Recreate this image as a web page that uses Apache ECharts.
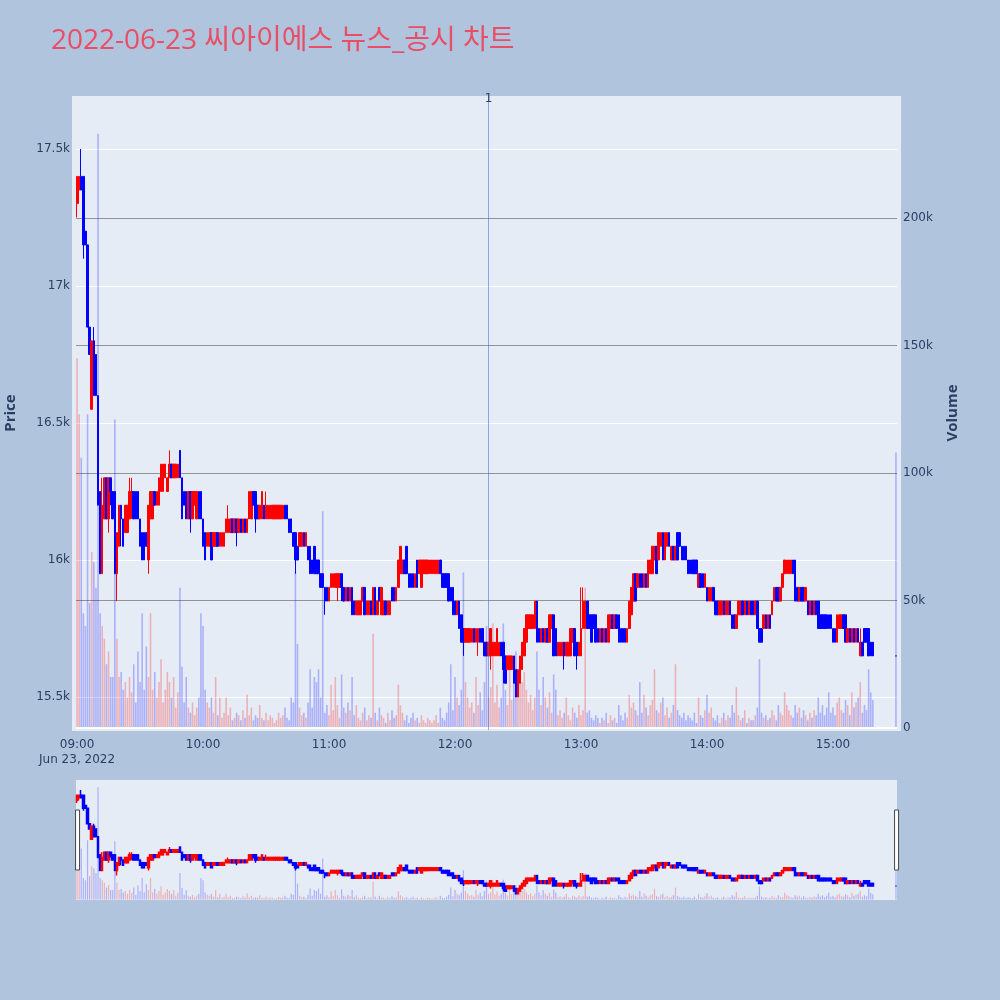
<!DOCTYPE html>
<html>
<head>
<meta charset="utf-8">
<script src="https://cdn.jsdelivr.net/npm/echarts@6/dist/echarts.min.js"></script>
<style>
html,body{margin:0;padding:0;background:#b0c4de;}
#chart{width:1000px;height:1000px;}
</style>
</head>
<body>
<div id="chart"></div>
<script>
const titleText = '2022-06-23 씨아이에스 뉴스_공시 차트';
const sessionDate = [2022, 6, 23];
const firstMinute = '09:00';
const closingAuctionTime = '15:30';
const newsTime = '12:16';
const newsLabel = '1';
const hourTicks = ['09:00','10:00','11:00','12:00','13:00','14:00','15:00'];
const priceTicks = [15500, 16000, 16500, 17000, 17500];
const volumeTicks = [0, 50000, 100000, 150000, 200000];

// one candle per minute from 09:00: [open, close, low, high]
const candles = [
[17300,17400,17250,17400],[17350,17400,17300,17400],[17400,17350,17350,17500],[17400,17150,17100,17400],[17200,17150,17150,17200],
[17150,16850,16850,17150],[16850,16750,16750,16850],[16550,16800,16550,16800],[16800,16600,16600,16850],[16750,16600,16600,16750],
[16600,16200,16200,16600],[16250,15950,15950,16250],[15950,16200,15950,16300],[16150,16300,16150,16300],[16300,16150,16150,16300],
[16150,16300,16100,16300],[16300,16250,16200,16300],[16250,16150,16150,16250],[16250,15950,15950,16250],[15950,16100,15850,16100],
[16050,16200,16050,16200],[16200,16150,16050,16200],[16150,16050,16050,16150],[16100,16200,16100,16200],[16100,16200,16100,16200],
[16150,16250,16150,16300],[16200,16250,16150,16300],[16250,16150,16150,16250],[16250,16150,16150,16250],[16250,16150,16150,16250],
[16150,16050,16050,16150],[16100,16000,16000,16100],[16100,16000,16000,16100],[16100,16050,16050,16100],[16000,16200,15950,16200],
[16150,16250,16150,16250],[16150,16250,16150,16250],[16250,16200,16200,16250],[16200,16250,16200,16250],[16200,16300,16200,16300],
[16250,16350,16250,16350],[16250,16350,16250,16350],[16300,16350,16300,16350],[16250,16300,16250,16300],[16300,16350,16300,16400],
[16350,16300,16300,16350],[16300,16350,16300,16350],[16300,16350,16300,16350],[16300,16350,16300,16350],[16400,16300,16300,16400],
[16300,16150,16150,16300],[16250,16200,16200,16250],[16250,16150,16150,16250],[16150,16250,16150,16250],[16250,16150,16100,16250],
[16150,16250,16150,16250],[16200,16250,16200,16250],[16150,16250,16150,16250],[16250,16150,16150,16250],[16250,16150,16150,16250],
[16150,16050,16050,16150],[16100,16000,16000,16100],[16050,16100,16050,16100],[16050,16100,16050,16100],[16100,16000,16000,16100],
[16050,16100,16050,16100],[16050,16100,16050,16100],[16100,16050,16050,16100],[16050,16100,16050,16100],[16050,16100,16050,16100],
[16050,16100,16050,16100],[16100,16150,16100,16150],[16100,16150,16100,16200],[16100,16150,16100,16150],[16150,16100,16100,16150],
[16100,16150,16100,16150],[16150,16100,16050,16150],[16100,16150,16100,16150],[16150,16100,16100,16150],[16100,16150,16100,16150],
[16150,16100,16100,16150],[16100,16150,16100,16150],[16150,16250,16150,16250],[16150,16250,16150,16250],[16250,16200,16200,16250],
[16250,16150,16100,16250],[16200,16150,16150,16200],[16150,16200,16150,16200],[16150,16250,16150,16250],[16200,16150,16150,16200],
[16150,16200,16150,16250],[16150,16200,16150,16200],[16150,16200,16150,16200],[16150,16200,16150,16200],[16150,16200,16150,16200],
[16150,16200,16150,16200],[16150,16200,16150,16200],[16150,16200,16150,16200],[16150,16200,16150,16200],[16200,16150,16150,16200],
[16200,16150,16150,16200],[16150,16100,16100,16150],[16150,16100,16100,16150],[16100,16050,16050,16100],[16100,16000,15950,16100],
[16050,16000,16000,16050],[16050,16100,16050,16100],[16050,16100,16050,16100],[16100,16050,16050,16100],[16050,16100,16050,16100],
[16050,16000,16000,16050],[16050,15950,15950,16050],[16000,15950,15950,16000],[16050,15950,15950,16050],[16000,15950,15950,16000],
[16000,15950,15950,16000],[15950,15900,15900,15950],[15950,15900,15900,15950],[15900,15850,15800,15900],[15900,15850,15850,15900],
[15850,15900,15850,15900],[15900,15950,15900,15950],[15900,15950,15900,15950],[15900,15950,15900,15950],[15900,15950,15850,15950],
[15900,15950,15900,15950],[15950,15900,15850,15950],[15900,15850,15850,15900],[15850,15900,15850,15900],[15900,15850,15850,15900],
[15850,15900,15850,15900],[15900,15800,15800,15900],[15850,15800,15800,15850],[15800,15850,15800,15850],[15800,15850,15800,15850],
[15800,15850,15800,15850],[15850,15900,15850,15900],[15900,15800,15800,15900],[15800,15850,15800,15850],[15800,15850,15800,15850],
[15850,15800,15800,15850],[15800,15900,15800,15900],[15900,15800,15800,15900],[15800,15850,15800,15850],[15900,15850,15850,15900],
[15800,15900,15800,15900],[15800,15850,15800,15850],[15850,15800,15800,15850],[15800,15850,15800,15850],[15800,15850,15800,15850],
[15900,15850,15850,15900],[15900,15850,15850,15900],[15850,15900,15850,15900],[15900,16000,15900,16000],[15950,16050,15950,16050],
[15950,16000,15950,16000],[16000,15950,15950,16000],[16050,15950,15950,16050],[15950,15900,15900,15950],[15950,15900,15900,15950],
[15950,15900,15900,15950],[15900,15950,15900,15950],[16000,15900,15900,16000],[15950,16000,15950,16000],[15900,16000,15900,16000],
[15950,16000,15950,16000],[15950,16000,15950,16000],[15950,16000,15950,16000],[15950,16000,15950,16000],[15950,16000,15950,16000],
[15950,16000,15950,16000],[15950,16000,15950,16000],[15950,16000,15950,16000],[16000,15950,15950,16000],[15950,15900,15900,15950],
[15950,15900,15900,15950],[15950,15900,15900,15950],[15950,15850,15850,15950],[15900,15850,15850,15900],[15900,15800,15800,15900],
[15850,15800,15800,15850],[15800,15850,15800,15850],[15850,15750,15750,15850],[15800,15700,15700,15800],[15750,15700,15650,15750],
[15700,15750,15700,15750],[15700,15750,15700,15750],[15700,15750,15700,15750],[15700,15750,15700,15750],[15750,15700,15700,15750],
[15700,15750,15700,15750],[15700,15750,15650,15750],[15750,15700,15700,15750],[15750,15700,15700,15750],[15700,15650,15650,15700],
[15700,15650,15650,15700],[15650,15700,15650,15700],[15650,15750,15600,15750],[15650,15700,15650,15700],[15650,15700,15650,15700],
[15650,15750,15650,15750],[15650,15700,15650,15700],[15700,15650,15650,15700],[15700,15600,15550,15700],[15650,15550,15550,15650],
[15600,15650,15600,15650],[15600,15650,15600,15650],[15600,15650,15600,15650],[15650,15550,15550,15650],[15600,15500,15500,15600],
[15500,15600,15500,15600],[15550,15650,15550,15650],[15600,15700,15600,15700],[15650,15750,15650,15750],[15700,15800,15700,15800],
[15750,15800,15750,15800],[15750,15800,15750,15800],[15750,15800,15750,15800],[15750,15850,15750,15850],[15850,15700,15700,15850],
[15750,15700,15700,15750],[15700,15750,15700,15750],[15750,15700,15700,15750],[15700,15750,15700,15750],[15750,15700,15700,15750],
[15700,15800,15700,15800],[15750,15800,15750,15800],[15800,15650,15650,15800],[15750,15650,15650,15750],[15650,15700,15650,15700],
[15650,15700,15650,15700],[15650,15700,15650,15700],[15700,15650,15600,15700],[15650,15700,15650,15700],[15650,15700,15650,15700],
[15650,15750,15650,15750],[15700,15750,15700,15750],[15750,15650,15650,15750],[15700,15650,15600,15700],[15650,15700,15650,15700],
[15650,15750,15650,15900],[15750,15850,15750,15900],[15750,15850,15750,15850],[15850,15750,15750,15850],[15800,15750,15750,15800],
[15800,15700,15700,15800],[15800,15750,15750,15800],[15800,15700,15700,15800],[15750,15700,15700,15750],[15700,15750,15700,15750],
[15750,15700,15700,15750],[15700,15750,15700,15750],[15750,15700,15700,15750],[15700,15800,15700,15800],[15750,15800,15750,15800],
[15800,15750,15750,15800],[15750,15800,15750,15800],[15800,15750,15750,15800],[15800,15700,15700,15800],[15750,15700,15700,15750],
[15750,15700,15700,15750],[15750,15700,15700,15750],[15700,15750,15700,15750],[15750,15850,15750,15850],[15800,15900,15800,15900],
[15850,15950,15850,15950],[15950,15850,15850,15950],[15900,15950,15900,15950],[15950,15900,15900,15950],[15950,15900,15900,15950],
[15900,15950,15900,15950],[15950,15900,15900,15950],[15900,16000,15900,16000],[15950,16000,15950,16000],[15950,16050,15950,16050],
[16000,16050,16000,16050],[16050,15950,15950,16050],[16000,16100,16000,16100],[16050,16100,16050,16100],[16100,16000,16000,16100],
[16000,16100,16000,16100],[16050,16100,16050,16100],[16100,16050,16050,16100],[16000,16050,16000,16050],[16050,16000,16000,16050],
[16000,16050,16000,16050],[16100,16000,16000,16100],[16100,16050,16050,16100],[16050,16000,16000,16050],[16050,16000,16000,16050],
[16050,16000,16000,16050],[16000,15950,15950,16000],[16000,15950,15950,16000],[16000,15950,15950,16000],[16000,15950,15950,16000],
[16000,15950,15950,16000],[15900,15950,15900,15950],[15950,15900,15900,15950],[15950,15900,15900,15950],[15900,15950,15900,15950],
[15900,15850,15850,15900],[15850,15900,15850,15900],[15850,15900,15850,15900],[15900,15850,15850,15900],[15850,15800,15800,15850],
[15850,15800,15800,15850],[15800,15850,15800,15850],[15800,15850,15800,15850],[15850,15800,15800,15850],[15800,15850,15800,15850],
[15800,15850,15800,15850],[15850,15800,15800,15850],[15800,15750,15750,15800],[15800,15750,15750,15800],[15750,15800,15750,15800],
[15800,15850,15800,15850],[15800,15850,15800,15850],[15850,15800,15800,15850],[15800,15850,15800,15850],[15850,15800,15800,15850],
[15800,15850,15800,15850],[15850,15800,15800,15850],[15850,15800,15800,15850],[15800,15850,15800,15850],[15850,15750,15750,15850],
[15750,15700,15700,15750],[15750,15700,15700,15750],[15750,15800,15750,15800],[15800,15750,15750,15800],[15750,15800,15750,15800],
[15800,15750,15750,15800],[15800,15850,15800,15850],[15850,15900,15850,15900],[15900,15850,15850,15900],[15900,15850,15850,15900],
[15850,15900,15850,15900],[15900,15950,15900,15950],[15950,16000,15950,16000],[15950,16000,15950,16000],[15950,16000,15950,16000],
[15950,16000,15950,16000],[16000,15950,15950,16000],[16000,15850,15850,16000],[15900,15850,15850,15900],[15850,15900,15850,15900],
[15900,15850,15850,15900],[15900,15850,15850,15900],[15850,15900,15850,15900],[15850,15800,15800,15850],[15800,15850,15800,15850],
[15850,15800,15800,15850],[15800,15850,15800,15850],[15850,15800,15800,15850],[15850,15750,15750,15850],[15800,15750,15750,15800],
[15800,15750,15750,15800],[15800,15750,15750,15800],[15800,15750,15750,15800],[15800,15750,15750,15800],[15800,15750,15750,15800],
[15750,15700,15700,15750],[15750,15700,15700,15750],[15700,15800,15700,15800],[15750,15800,15750,15800],[15750,15800,15750,15800],
[15800,15750,15750,15800],[15800,15700,15700,15800],[15700,15750,15700,15750],[15750,15700,15700,15750],[15700,15750,15700,15750],
[15750,15700,15700,15750],[15700,15750,15700,15750],[15750,15700,15700,15750],[15650,15700,15650,15750],[15700,15650,15650,15700],
[15750,15700,15700,15750],[15750,15700,15700,15750],[15750,15650,15650,15750],[15700,15650,15650,15700],[15700,15650,15650,15700]
];
const closingAuction = [15650,15650,15650,15650];

// traded volume per minute from 09:00
const volumes = [
145000,123000,106000,45000,40000,123000,49000,69000,65000,55000,
233000,45000,40000,35000,25000,30000,20000,20000,121000,35000,
20000,22000,15000,18000,12000,20000,14000,25000,10000,30000,
18000,45000,15000,32000,20000,45000,15000,22000,12000,18000,
27000,10000,15000,22000,18000,12000,20000,8000,14000,55000,
24000,10000,20000,8000,6000,10000,5000,8000,12000,45000,
40000,15000,10000,8000,12000,6000,20000,5000,12000,4000,
6000,12000,5000,8000,3000,4000,6000,5000,3000,7000,
4000,13000,5000,8000,3000,5000,4000,9000,4000,3000,
6000,3000,5000,4000,2000,3000,6000,4000,5000,8000,
4000,3000,12000,10000,61000,33000,8000,5000,6000,4000,
10000,23000,8000,20000,18000,23000,12000,85000,6000,9000,
5000,17000,7000,20000,9000,4000,21000,8000,6000,10000,
7000,20000,5000,9000,4000,3000,6000,8000,3000,5000,
4000,37000,6000,3000,8000,5000,4000,2000,6000,3000,
7000,4000,5000,17000,9000,6000,3000,5000,2000,4000,
6000,3000,4000,2000,5000,3000,2000,4000,3000,2000,
3000,5000,2000,8000,4000,3000,6000,10000,25000,7000,
20000,12000,9000,15000,61000,18000,12000,8000,10000,6000,
20000,9000,14000,7000,18000,40000,12000,16000,41000,10000,
17000,8000,12000,41000,15000,9000,26000,11000,20000,30000,
21000,24000,18000,22000,15000,10000,13000,7000,12000,30000,
15000,9000,20000,12000,8000,14000,6000,21000,15000,5000,
7000,4000,6000,12000,5000,3000,8000,6000,4000,9000,
5000,7000,55000,6000,7000,4000,3000,5000,4000,2000,
4000,3000,6000,2000,5000,3000,4000,2000,9000,5000,
3000,6000,4000,13000,8000,10000,7000,5000,18000,6000,
13000,8000,5000,9000,11000,23000,7000,6000,10000,12000,
5000,8000,4000,6000,9000,25000,7000,5000,4000,6000,
3000,5000,4000,3000,6000,2000,12000,5000,4000,7000,
13000,6000,8000,4000,3000,5000,2000,4000,6000,3000,
5000,4000,9000,6000,16000,5000,3000,4000,7000,2000,
4000,3000,3000,5000,8000,27000,6000,4000,5000,3000,
4000,7000,5000,3000,9000,6000,5000,14000,9000,7000,
5000,4000,9000,6000,8000,4000,7000,5000,3000,6000,
4000,7000,5000,12000,6000,9000,5000,8000,14000,6000,
8000,5000,10000,12000,7000,6000,11000,9000,5000,14000,
8000,10000,12000,18000,6000,9000,7000,23000,14000,11000
];
const closingAuctionVolume = 108000;

const priceRange = [15379.6, 17693.4];
const volumeRange = [-784, 247843];

function toMinutes(hhmm) { const p = hhmm.split(':'); return (+p[0]) * 60 + (+p[1]); }
const openMin = toMinutes(firstMinute);
const xs = candles.map((_, i) => i).concat([toMinutes(closingAuctionTime) - openMin]);
const allCandles = candles.concat([closingAuction]);
const allVolumes = volumes.concat([closingAuctionVolume]);
const candleData = allCandles.map((c, i) => [xs[i], c[0], c[1], c[2], c[3]]);
const UP = '#ff0000', DOWN = '#0000ff';
const UP_VOL = 'rgba(255,0,0,0.25)', DOWN_VOL = 'rgba(0,0,255,0.25)';
const volData = allVolumes.map((v, i) => ({
  value: [xs[i], v],
  itemStyle: { color: allCandles[i][1] > allCandles[i][0] ? UP_VOL : DOWN_VOL }
}));
const monthNames = ['Jan','Feb','Mar','Apr','May','Jun','Jul','Aug','Sep','Oct','Nov','Dec'];
const dateLine = monthNames[sessionDate[1] - 1] + ' ' + sessionDate[2] + ', ' + sessionDate[0];
const pad = n => (n < 10 ? '0' : '') + n;
function fmtTime(m) { const t = openMin + Math.round(m); return pad(Math.floor(t / 60)) + ':' + pad(t % 60); }
function fmtK(v) { return v === 0 ? '0' : (v / 1000) + 'k'; }
const xMin = -0.5, xMax = toMinutes(closingAuctionTime) - openMin + 0.5;
const hourValues = hourTicks.map(h => toMinutes(h) - openMin);

const FONT = "'Open Sans', 'Noto Sans CJK KR', sans-serif";
const TICKFONT = "'DejaVu Sans', Verdana, sans-serif";
const TXT = '#2a3f5f';
const BG = '#e5ecf6';

const chart = echarts.init(document.getElementById('chart'), null, { renderer: 'canvas' });
chart.setOption({
  animation: false,
  backgroundColor: '#b0c4de',
  title: {
    text: titleText, left: 46, top: 22,
    textStyle: { color: '#e84f67', fontSize: 28, fontWeight: 'normal', fontFamily: FONT }
  },
  graphic: [{
    type: 'rect', z: -10, silent: true,
    shape: { x: 72, y: 96, width: 829, height: 635 },
    style: { fill: BG }
  }],
  grid: [
    { left: 76, right: 103, top: 96, height: 634, show: true, backgroundColor: BG, borderWidth: 0, outerBoundsMode: 'none', containLabel: false },
    { left: 76, right: 103, top: 780, height: 120, show: true, backgroundColor: BG, borderWidth: 0, outerBoundsMode: 'none', containLabel: false }
  ],
  xAxis: [
    {
      type: 'value', gridIndex: 0, min: xMin, max: xMax,
      axisLine: { show: false }, splitLine: { show: false },
      axisTick: { show: false, customValues: hourValues },
      axisLabel: {
        customValues: hourValues, color: TXT, fontFamily: TICKFONT, fontSize: 12, margin: 7, lineHeight: 15,
        formatter: v => v === hourValues[0] ? fmtTime(v) + '\n' + dateLine : fmtTime(v)
      }
    },
    { type: 'value', gridIndex: 1, min: xMin, max: xMax, show: false, splitLine: { show: false } }
  ],
  yAxis: [
    {
      type: 'value', gridIndex: 0, position: 'left', min: priceRange[0], max: priceRange[1],
      axisLine: { show: false },
      axisTick: { show: false, customValues: priceTicks },
      axisLabel: { customValues: priceTicks, formatter: fmtK, color: TXT, fontFamily: TICKFONT, fontSize: 12, margin: 6 },
      splitLine: { show: true, lineStyle: { color: '#ffffff', width: 1 } },
      name: 'Price', nameLocation: 'middle', nameRotate: 90, nameGap: 58,
      nameTextStyle: { fontWeight: 'bold', fontSize: 15, color: TXT, fontFamily: FONT }
    },
    {
      type: 'value', gridIndex: 0, position: 'right', min: volumeRange[0], max: volumeRange[1],
      axisLine: { show: false },
      axisTick: { show: false, customValues: volumeTicks.slice(1) },
      axisLabel: { customValues: volumeTicks, formatter: fmtK, color: TXT, fontFamily: TICKFONT, fontSize: 12, margin: 6 },
      splitLine: { show: true, lineStyle: { color: '#939393', width: 1 } },
      name: 'Volume', nameLocation: 'middle', nameRotate: 90, nameGap: 48,
      nameTextStyle: { fontWeight: 'bold', fontSize: 15, color: TXT, fontFamily: FONT }
    },
    { type: 'value', gridIndex: 1, min: priceRange[0], max: priceRange[1], show: false, splitLine: { show: false } },
    { type: 'value', gridIndex: 1, min: volumeRange[0], max: volumeRange[1], show: false, splitLine: { show: false } }
  ],
  dataZoom: [{
    type: 'slider', xAxisIndex: [1], filterMode: 'none', start: 0, end: 100,
    left: 76, right: 103, top: 780, height: 120,
    backgroundColor: 'rgba(0,0,0,0)', borderColor: 'rgba(0,0,0,0)', fillerColor: 'rgba(0,0,0,0)',
    showDataShadow: false, showDetail: false, brushSelect: false, moveHandleSize: 0,
    handleIcon: 'path://M0,0H4V60H0Z', handleSize: 60,
    handleStyle: { color: '#ffffff', borderColor: '#444444', borderWidth: 1 },
    moveHandleStyle: { opacity: 0 },
    dataBackground: { lineStyle: { opacity: 0 }, areaStyle: { opacity: 0 } },
    selectedDataBackground: { lineStyle: { opacity: 0 }, areaStyle: { opacity: 0 } },
    emphasis: { handleStyle: { color: '#ffffff', borderColor: '#444444' }, moveHandleStyle: { opacity: 0 } }
  }],
  series: [
    {
      type: 'bar', name: 'Volume', xAxisIndex: 0, yAxisIndex: 1, z: 1,
      data: volData, barWidth: 1.6, silent: true,
      markLine: {
        silent: true, symbol: 'none', label: { show: false },
        lineStyle: { color: '#ffffff', width: 2, type: 'solid' },
        data: [{ yAxis: 0 }]
      }
    },
    {
      type: 'candlestick', name: 'Price', xAxisIndex: 0, yAxisIndex: 0, z: 2,
      data: candleData, encode: { x: 0, y: [1, 2, 3, 4] }, barWidth: 2,
      itemStyle: { color: UP, color0: DOWN, borderColor: UP, borderColor0: DOWN, borderColorDoji: DOWN, borderWidth: 1 },
      markLine: {
        silent: true, symbol: 'none',
        lineStyle: { color: 'rgba(65,105,225,0.55)', width: 1, type: 'solid' },
        label: { show: true, position: 'end', formatter: newsLabel, color: TXT, fontFamily: TICKFONT, fontSize: 12, distance: -9 },
        data: [{ xAxis: toMinutes(newsTime) - openMin }]
      }
    },
    {
      type: 'bar', xAxisIndex: 1, yAxisIndex: 3, z: 1, silent: true,
      data: volData, barWidth: 1.2
    },
    {
      type: 'candlestick', xAxisIndex: 1, yAxisIndex: 2, z: 2, silent: true,
      data: candleData, encode: { x: 0, y: [1, 2, 3, 4] }, barWidth: 2,
      itemStyle: { color: UP, color0: DOWN, borderColor: UP, borderColor0: DOWN, borderColorDoji: DOWN, borderWidth: 1.5 }
    }
  ]
});
</script>
</body>
</html>
